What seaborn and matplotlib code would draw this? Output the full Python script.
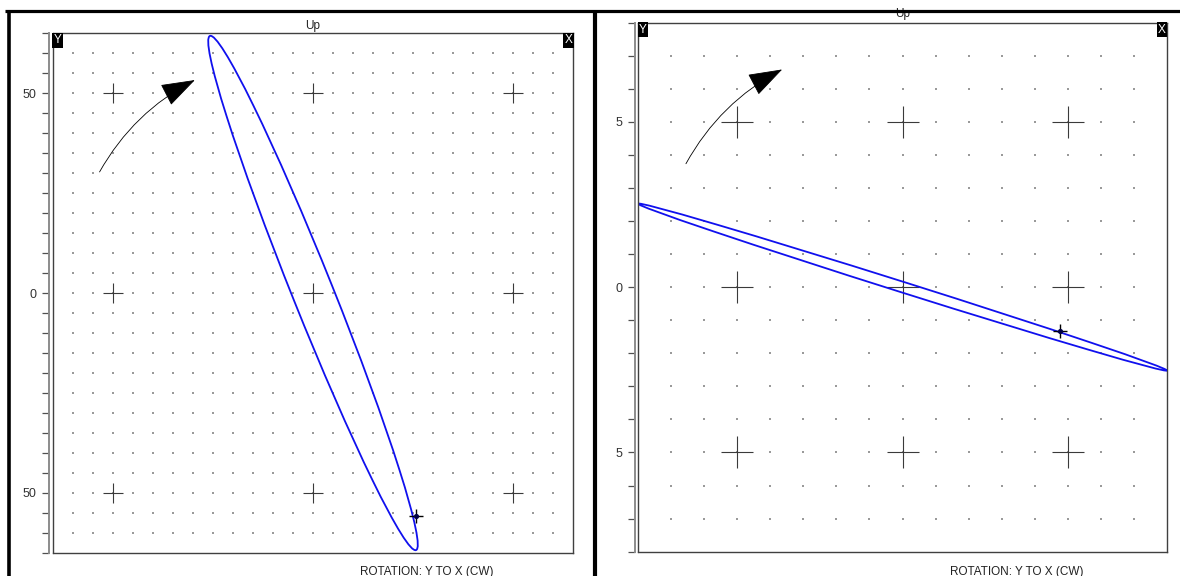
import numpy as np
import pandas as pd
import matplotlib
matplotlib.use("Agg")
import matplotlib.pyplot as plt
import seaborn as sns
from matplotlib.patches import Ellipse, FancyArrowPatch
from matplotlib.lines import Line2D

sns.set_theme(style="white")
plt.rcParams['font.family'] = ['Liberation Sans', 'DejaVu Sans']

# ---------------- data ----------------
axis_limits = [65.0, 8.0]                 # symmetric axis range of each orbit plot
grid_steps = [5, 1]                       # dot grid / tick spacing
major_ticks = [[-50, 0, 50], [-5, 0, 5]]
major_labels = [["50", "0", "50"], ["5", "0", "5"]]
orbit_center_x = [0.0, 0.0]
orbit_center_y = [0.0, 0.0]
orbit_major_len = [138.6, 16.78]          # full length of orbit major axis
orbit_minor_len = [10.2, 0.32]            # full length of orbit minor axis
orbit_angle_deg = [111.8, -17.5]
keyphasor_x = [25.7, 4.76]
keyphasor_y = [-55.7, -1.34]
arrow_start_x = [-53.3, -6.55]
arrow_start_y = [30.3, 3.73]
arrow_end_x = [-29.5, -3.64]
arrow_end_y = [53.3, 6.58]
title_text = "Up"
footer_text = "ROTATION: Y TO X (CW)"
corner_labels = ["Y", "X"]

# ---------------- figure ----------------
W, H = 1180, 576
fig = plt.figure(figsize=(W / 100, H / 100), dpi=100)

def px_box(x0, y0, x1, y1):
    return [x0 / W, 1 - y1 / H, (x1 - x0) / W, (y1 - y0) / H]

ax_boxes = [px_box(52.7, 33.3, 573.3, 552.7), px_box(638, 22.5, 1167, 551.7)]
cross_sizes = [190, 520]
title_y_px = [26, 14]
footer_x_px = [427, 1017]

for i in range(2):
    ax = fig.add_axes(ax_boxes[i])
    lim = axis_limits[i]
    step = grid_steps[i]
    ax.set_xlim(-lim, lim)
    ax.set_ylim(-lim, lim)

    # dot grid (inside the frame only)
    inner = np.floor((lim - 1e-6) / step) * step
    if inner >= lim - 1e-6:
        inner -= step
    g = np.arange(-inner, inner + 1e-9, step)
    g = g[np.abs(g) < lim - 1e-6]
    gx, gy = np.meshgrid(g, g)
    dots = pd.DataFrame({"x": gx.ravel(), "y": gy.ravel()})
    sns.scatterplot(data=dots, x="x", y="y", ax=ax, s=1.3, color="#9a9a9a",
                    linewidth=0, marker="s", legend=False, zorder=1)

    # crosses at major grid points
    mx, my = np.meshgrid(major_ticks[i], major_ticks[i])
    crosses = pd.DataFrame({"x": mx.ravel(), "y": my.ravel()})
    sns.scatterplot(data=crosses, x="x", y="y", ax=ax, s=cross_sizes[i],
                    marker="+", color="#3a3a3a", linewidth=0.8, legend=False,
                    zorder=2)

    # orbit
    ell = Ellipse((orbit_center_x[i], orbit_center_y[i]), orbit_major_len[i],
                  orbit_minor_len[i], angle=orbit_angle_deg[i], fill=False,
                  edgecolor="#1010ee", linewidth=1.3, zorder=3)
    ax.add_patch(ell)

    # keyphasor marker
    kp = pd.DataFrame({"x": [keyphasor_x[i]], "y": [keyphasor_y[i]]})
    sns.scatterplot(data=kp, x="x", y="y", ax=ax, s=110, marker="+",
                    color="black", linewidth=1.0, legend=False, zorder=4)
    sns.scatterplot(data=kp, x="x", y="y", ax=ax, s=14, marker="o",
                    color="#000044", linewidth=0, legend=False, zorder=4)

    # rotation arrow
    arr = FancyArrowPatch((arrow_start_x[i], arrow_start_y[i]),
                          (arrow_end_x[i], arrow_end_y[i]),
                          arrowstyle="-|>,head_length=22,head_width=7.5",
                          connectionstyle="arc3,rad=-0.15", mutation_scale=1,
                          shrinkA=0, shrinkB=0, color="black", linewidth=0.6,
                          zorder=5)
    ax.add_patch(arr)

    # axes styling
    for side in ["top", "right", "bottom"]:
        ax.spines[side].set_color("#404040")
        ax.spines[side].set_linewidth(1.0)
    ax.spines["left"].set_position(("outward", 2.5))
    ax.spines["left"].set_color("#8c8c8c")
    ax.spines["left"].set_linewidth(1.4)
    ax.plot([-lim, -lim], [-lim, lim], color="#404040", lw=1.0,
            clip_on=False, zorder=6)

    ax.set_xticks([])
    ticks = np.arange(-np.floor(lim / step) * step, lim + 1e-9, step)
    ax.set_yticks(ticks)
    ax.set_yticklabels([major_labels[i][major_ticks[i].index(int(t))]
                        if int(t) in major_ticks[i] and abs(t - int(t)) < 1e-9
                        else "" for t in ticks])
    ax.tick_params(axis="y", left=True, length=5, width=0.9, color="#505050",
                   pad=4, labelsize=9, labelcolor="#333333")
    ax.set_xlabel("")
    ax.set_ylabel("")

    # corner tags
    ax.text(0.002, 0.998, corner_labels[0], transform=ax.transAxes,
            ha="left", va="top", color="white", fontsize=8.5, zorder=7,
            bbox=dict(boxstyle="square,pad=0.12", fc="black", ec="none"))
    ax.text(0.998, 0.998, corner_labels[1], transform=ax.transAxes,
            ha="right", va="top", color="white", fontsize=8.5, zorder=7,
            bbox=dict(boxstyle="square,pad=0.12", fc="black", ec="none"))

    # title and footer
    cx = (ax_boxes[i][0] + ax_boxes[i][2] / 2)
    fig.text(cx, 1 - title_y_px[i] / H, title_text, ha="center", va="center",
             fontsize=8.5, color="#222222")
    fig.text(footer_x_px[i] / W, 1 - 572 / H, footer_text, ha="center",
             va="center", fontsize=8.5, color="#222222")

# report frame lines
fig.add_artist(Line2D([5 / W, 1], [1 - 10.8 / H, 1 - 10.8 / H],
                      transform=fig.transFigure, color="black", lw=2.3,
                      solid_capstyle="butt", zorder=20))
fig.add_artist(Line2D([9 / W, 9 / W], [0, 1 - 9.5 / H],
                      transform=fig.transFigure, color="black", lw=2.6,
                      solid_capstyle="butt", zorder=20))
fig.add_artist(Line2D([595 / W, 595 / W], [0, 1 - 9.5 / H],
                      transform=fig.transFigure, color="black", lw=3.0,
                      solid_capstyle="butt", zorder=20))

fig.savefig("out.png", dpi=100)
